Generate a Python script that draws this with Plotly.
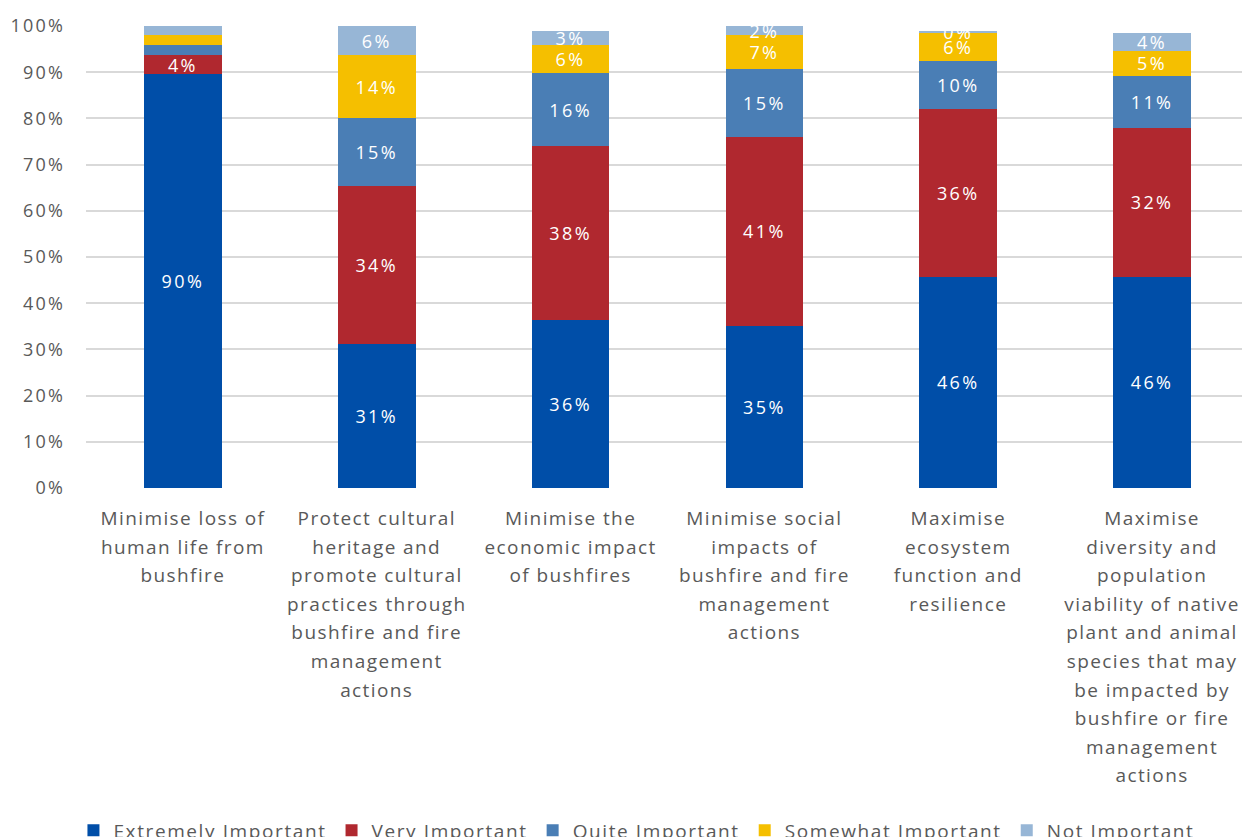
import plotly.graph_objects as go

categories = [
    "Minimise loss of<br>human life from<br>bushfire",
    "Protect cultural<br>heritage and<br>promote cultural<br>practices through<br>bushfire and fire<br>management<br>actions",
    "Minimise the<br>economic impact<br>of bushfires",
    "Minimise social<br>impacts of<br>bushfire and fire<br>management<br>actions",
    "Maximise<br>ecosystem<br>function and<br>resilience",
    "Maximise<br>diversity and<br>population<br>viability of native<br>plant and animal<br>species that may<br>be impacted by<br>bushfire or fire<br>management<br>actions",
]

series_names = ["Extremely Important", "Very Important", "Quite Important",
                "Somewhat Important", "Not Important"]

extremely = [89.6, 31.2, 36.4, 35.1, 45.7, 45.7]
very = [4.1, 34.2, 37.6, 40.9, 36.4, 32.2]
quite = [2.2, 14.7, 15.8, 14.7, 10.3, 11.3]
somewhat = [2.1, 13.6, 6.0, 7.3, 6.1, 5.4]
not_imp = [2.0, 6.3, 3.1, 2.0, 0.4, 3.9]

# labels shown on each segment ("" = no label)
extremely_lbl = ["90%", "31%", "36%", "35%", "46%", "46%"]
very_lbl = ["4%", "34%", "38%", "41%", "36%", "32%"]
quite_lbl = ["", "15%", "16%", "15%", "10%", "11%"]
somewhat_lbl = ["", "14%", "6%", "7%", "6%", "5%"]
not_lbl = ["", "6%", "3%", "2%", "0%", "4%"]

y_tick_vals = [0, 10, 20, 30, 40, 50, 60, 70, 80, 90, 100]
y_tick_text = ["0%", "10%", "20%", "30%", "40%", "50%", "60%", "70%", "80%", "90%", "100%"]

colors = ["#004EA8", "#B0282F", "#4A7EB5", "#F5BF00", "#97B6D6"]

FONT = "Open Sans"
GREY = "#595959"


def spaced(s, size=None, ls=1.3):
    st = "letter-spacing:%spx" % ls
    if size:
        st += ";font-size:%spx" % size
    return '<span style="%s">%s</span>' % (st, s)


ticklabels = ["<br>".join(spaced(ln, 19, 1.4) for ln in c.split("<br>")) for c in categories]

fig = go.Figure()
for name, vals, lbls, col in zip(series_names,
                                  [extremely, very, quite, somewhat, not_imp],
                                  [extremely_lbl, very_lbl, quite_lbl, somewhat_lbl, not_lbl],
                                  colors):
    fig.add_trace(go.Bar(
        name=spaced(name, None, 1.6),
        x=list(range(len(categories))),
        y=vals,
        text=[spaced(t, None, 2.4) if t else "" for t in lbls],
        texttemplate="%{text}",
        textposition="inside",
        insidetextanchor="middle",
        constraintext="none",
        textangle=0,
        textfont=dict(family=FONT, size=18, color="white"),
        marker=dict(color=col, line=dict(width=0)),
        hoverinfo="skip",
    ))

fig.update_layout(
    barmode="stack",
    bargap=0.6,
    width=1242,
    height=837,
    paper_bgcolor="white",
    plot_bgcolor="white",
    font=dict(family=FONT, color=GREY, size=18),
    margin=dict(l=86, r=0, t=26, b=349, autoexpand=False),
    xaxis=dict(
        tickmode="array",
        tickvals=list(range(len(categories))),
        ticktext=ticklabels,
        range=[-0.5, 5.464],
        showgrid=False,
        zeroline=False,
        showline=False,
        ticks="",
        ticklabelstandoff=14,
        tickfont=dict(family=FONT, size=22, color=GREY),
        fixedrange=True,
    ),
    yaxis=dict(
        range=[0, 100],
        tickmode="array",
        tickvals=y_tick_vals,
        ticktext=[spaced(t, None, 2.2) for t in y_tick_text],
        showgrid=True,
        gridcolor="#D9D9D9",
        gridwidth=2,
        zeroline=False,
        showline=False,
        ticks="",
        ticklabelstandoff=20,
        tickfont=dict(family=FONT, size=18, color=GREY),
    ),
    legend=dict(
        orientation="h",
        x=0.4766,
        xanchor="center",
        y=-0.7,
        yanchor="top",
        font=dict(family=FONT, size=19, color=GREY),
        traceorder="normal",
        itemwidth=30,
    ),
    showlegend=True,
)

fig.write_html("out.html")
